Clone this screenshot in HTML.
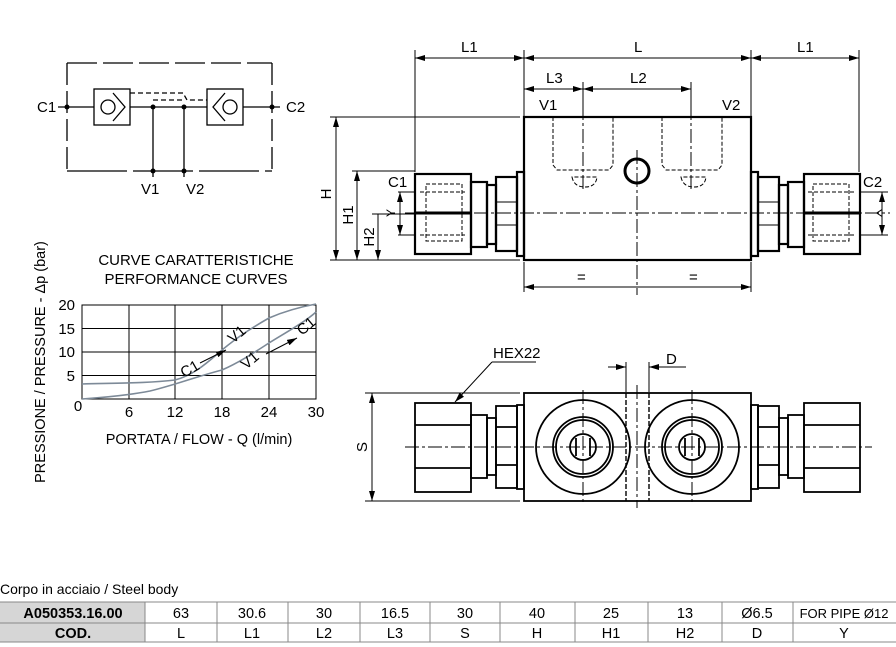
<!DOCTYPE html>
<html><head><meta charset="utf-8"><style>
body{margin:0;background:#fff;}
svg{display:block;font-family:"Liberation Sans",sans-serif;}
</style></head><body>
<svg width="896" height="647" viewBox="0 0 896 647" xmlns="http://www.w3.org/2000/svg">
<defs>
<marker id="a" markerWidth="10" markerHeight="6" refX="10" refY="3" orient="auto-start-reverse" markerUnits="userSpaceOnUse"><path d="M0,0 L10,3 L0,6 z" fill="#000"/></marker>
</defs>
<rect width="896" height="647" fill="#fff"/>

<!-- ===== Schematic ===== -->
<g stroke="#000" stroke-width="1.3" fill="none">
<path d="M67,63 H272" stroke-dasharray="30,6"/>
<path d="M67,63 V171" stroke-dasharray="22,6"/>
<path d="M272,63 V171" stroke-dasharray="22,6"/>
<path d="M67,171 H272" stroke-dasharray="60,6"/>
<path d="M58,107 H94 M130,107 H207 M243,107 H280"/>
<rect x="94" y="89" width="36" height="36"/>
<rect x="207" y="89" width="36" height="36"/>
<circle cx="108" cy="107" r="7"/>
<path d="M113,93 L125,107 L113,121"/>
<circle cx="230" cy="107" r="7"/>
<path d="M225,93 L213,107 L225,121"/>
<path d="M153,107 V177 M184,107 V177"/>
<path d="M130,93 H183 L187,100 H207" stroke-dasharray="5,3"/>
<path d="M153,100 H182" stroke-dasharray="5,3"/>
</g>
<g fill="#000">
<circle cx="67" cy="107" r="2.5"/><circle cx="272" cy="107" r="2.5"/>
<circle cx="153" cy="107" r="2.5"/><circle cx="184" cy="107" r="2.5"/>
<circle cx="153" cy="171" r="2.5"/><circle cx="184" cy="171" r="2.5"/>
</g>
<g font-size="15" fill="#000">
<text x="37" y="112">C1</text><text x="286" y="112">C2</text>
<text x="141" y="194">V1</text><text x="186" y="194">V2</text>
</g>

<!-- ===== Chart ===== -->
<g font-size="15" fill="#000" text-anchor="middle">
<text x="196" y="265">CURVE CARATTERISTICHE</text>
<text x="196" y="284">PERFORMANCE CURVES</text>
<text x="199" y="444" font-size="14.5">PORTATA / FLOW - Q (l/min)</text>
<text transform="translate(45,362) rotate(-90)" font-size="14.5">PRESSIONE / PRESSURE - Δp (bar)</text>
</g>
<g stroke="#000" stroke-width="1" fill="none">
<rect x="82" y="305" width="234" height="94"/>
<path d="M129,305V399 M175,305V399 M222,305V399 M269,305V399 M82,375.5H316 M82,352H316 M82,328.5H316"/>
</g>
<g font-size="15" fill="#000" text-anchor="end">
<text x="75" y="310">20</text><text x="75" y="334">15</text><text x="75" y="357">10</text><text x="75" y="381">5</text>
</g>
<g font-size="15" fill="#000" text-anchor="middle">
<text x="78" y="411">0</text><text x="129" y="417">6</text><text x="175" y="417">12</text><text x="222" y="417">18</text><text x="269" y="417">24</text><text x="316" y="417">30</text>
</g>
<g stroke="#7d8a98" stroke-width="1.6" fill="none">
<path d="M82,384 C120,383 150,383 175,380 C195,375 210,360 222,350 C240,335 255,326 269,318 C285,311 300,307 316,304"/>
<path d="M82,399 C110,397 130,395 150,391 C175,385 195,377 222,370 C240,362 255,352 269,343 C285,333 305,322 316,312"/>
</g>
<g stroke="#000" stroke-width="1" fill="none">
<path d="M200,363 L226,350" marker-end="url(#a)"/>
<path d="M266,354 L297,338" marker-end="url(#a)"/>
</g>
<g font-size="15" fill="#000">
<text transform="translate(184,378) rotate(-30)">C1</text>
<text transform="translate(233,344) rotate(-40)">V1</text>
<text transform="translate(246,370) rotate(-40)">V1</text>
<text transform="translate(302,336) rotate(-40)">C1</text>
</g>

<!-- ===== Front view ===== -->
<g stroke="#000" stroke-width="1" fill="none">
<path d="M415,50 V172 M524,50 V117 M751,50 V117 M859,50 V172 M583,82 V117 M691,82 V117"/>
<path d="M330,117 H520 M352,171 H415 M372,214 H415 M330,260 H520"/>
<path d="M398,192 H415 M398,235 H415 M860,192 H888 M860,235 H888"/>
<path d="M524,262 V292 M751,262 V292"/>
<path d="M415,58 H524" marker-start="url(#a)" marker-end="url(#a)"/>
<path d="M524,58 H751" marker-start="url(#a)" marker-end="url(#a)"/>
<path d="M751,58 H859" marker-start="url(#a)" marker-end="url(#a)"/>
<path d="M524,89 H583" marker-start="url(#a)" marker-end="url(#a)"/>
<path d="M583,89 H691" marker-start="url(#a)" marker-end="url(#a)"/>
<path d="M524,287 H751" marker-start="url(#a)" marker-end="url(#a)"/>
<path d="M336,117 V260" marker-start="url(#a)" marker-end="url(#a)"/>
<path d="M357,171 V260" marker-start="url(#a)" marker-end="url(#a)"/>
<path d="M378,214 V260" marker-end="url(#a)"/>
<path d="M400,192 V235" marker-start="url(#a)" marker-end="url(#a)"/>
<path d="M882,192 V235" marker-start="url(#a)" marker-end="url(#a)"/>
</g>
<g stroke="#000" stroke-width="2.2" fill="none">
<rect x="524" y="117" width="227" height="143"/>
<rect x="415" y="174" width="56" height="80"/>
<rect x="471" y="182" width="16" height="65"/>
<rect x="487" y="185" width="9" height="59"/>
<rect x="496" y="177" width="21" height="74"/>
<rect x="517" y="172" width="7" height="84"/>
<rect x="804" y="174" width="56" height="80"/>
<rect x="788" y="182" width="16" height="65"/>
<rect x="779" y="185" width="9" height="59"/>
<rect x="758" y="177" width="21" height="74"/>
<rect x="751" y="172" width="7" height="84"/>
<circle cx="637" cy="171" r="12" stroke-width="3"/>
<path d="M415,213 H471 M804,213 H860" stroke-width="3"/>
</g>
<g stroke="#000" stroke-width="1" fill="none">
<path d="M496,202 H517 M496,225 H517 M758,202 H779 M758,225 H779"/>
<path d="M553,117 V165 L557,170 H609 L613,165 V117" stroke-dasharray="4,2"/>
<path d="M662,117 V165 L666,170 H718 L722,165 V117" stroke-dasharray="4,2"/>
<path d="M572,177 Q574,187 585,187 Q596,187 597,177 Z" stroke-dasharray="4,2"/>
<path d="M681,177 Q683,187 694,187 Q705,187 706,177 Z" stroke-dasharray="4,2"/>
<rect x="426" y="184" width="36" height="57" stroke-dasharray="4,2"/>
<rect x="813" y="184" width="36" height="57" stroke-dasharray="4,2"/>
<path d="M420,192 H465 M420,235 H465 M808,192 H856 M808,235 H856" stroke-dasharray="4,2"/>
<path d="M405,213 H890 M637,150 V295 M583,106 V190 M691,106 V190" stroke-dasharray="14,3,3,3"/>
</g>
<g font-size="15" fill="#000">
<text x="461" y="52">L1</text><text x="634" y="52">L</text><text x="797" y="52">L1</text>
<text x="546" y="83">L3</text><text x="630" y="83">L2</text>
<text x="539" y="110">V1</text><text x="722" y="110">V2</text>
<text x="388" y="187">C1</text><text x="863" y="187">C2</text>
<text x="577" y="282">=</text><text x="689" y="282">=</text>
<text transform="translate(331,194) rotate(-90)" text-anchor="middle">H</text>
<text transform="translate(353,215) rotate(-90)" text-anchor="middle">H1</text>
<text transform="translate(374,237) rotate(-90)" text-anchor="middle">H2</text>
<text transform="translate(395,213) rotate(-90)" text-anchor="middle" font-size="12">Y</text>
<text transform="translate(873,213) rotate(90)" text-anchor="middle" font-size="12">Y</text>
</g>

<!-- ===== Bottom view ===== -->
<g stroke="#000" stroke-width="1" fill="none">
<path d="M365,393 H520 M365,501 H520"/>
<path d="M372,393 V501" marker-start="url(#a)" marker-end="url(#a)"/>
<path d="M626,362 V392 M649,362 V392"/>
<path d="M608,367 H626" marker-end="url(#a)"/>
<path d="M667,367 H649" marker-end="url(#a)"/>
<path d="M649,367 H686"/>
<path d="M492,362 L455,402" marker-end="url(#a)"/>
<path d="M492,362 H536"/>
<path d="M405,447 H872 M637,385 V508 M583,390 V505 M692,390 V505" stroke-dasharray="14,3,3,3"/>
<path d="M626,393 V501 M649,393 V501" stroke-dasharray="5,2" stroke-width="1.4"/>
</g>
<g stroke="#000" stroke-width="1.8" fill="none">
<rect x="524" y="393" width="227" height="108"/>
<rect x="415" y="403" width="56" height="89"/>
<path d="M415,425 H471 M415,468 H471"/>
<rect x="471" y="415" width="16" height="63"/>
<rect x="487" y="418" width="9" height="57"/>
<rect x="496" y="406" width="21" height="82"/>
<path d="M496,427 H517 M496,465 H517"/>
<rect x="517" y="405" width="7" height="84"/>
<rect x="804" y="403" width="56" height="89"/>
<path d="M804,425 H860 M804,468 H860"/>
<rect x="788" y="415" width="16" height="63"/>
<rect x="779" y="418" width="9" height="57"/>
<rect x="758" y="406" width="21" height="82"/>
<path d="M758,427 H779 M758,465 H779"/>
<rect x="751" y="405" width="7" height="84"/>
<circle cx="583" cy="447" r="47"/><circle cx="583" cy="447" r="30"/><circle cx="583" cy="447" r="27"/><circle cx="583" cy="447" r="13"/>
<circle cx="692" cy="447" r="47"/><circle cx="692" cy="447" r="30"/><circle cx="692" cy="447" r="27"/><circle cx="692" cy="447" r="13"/>
<path d="M576,438 V456 M590,438 V456 M685,438 V456 M699,438 V456"/>
</g>
<g font-size="15" fill="#000">
<text x="493" y="358">HEX22</text>
<text x="666" y="364">D</text>
<text transform="translate(367,447) rotate(-90)" text-anchor="middle">S</text>
</g>

<!-- ===== Table ===== -->
<text x="0" y="594" font-size="14" fill="#000">Corpo in acciaio / Steel body</text>
<rect x="0" y="602" width="145" height="40" fill="#d6d6d6"/>
<g stroke="#888" stroke-width="1" fill="none">
<path d="M0,602 H896 M0,623 H896 M0,642 H896"/>
<path d="M145,602V642 M217,602V642 M288,602V642 M360,602V642 M430,602V642 M500,602V642 M575,602V642 M648,602V642 M722,602V642 M793,602V642"/>
</g>
<g font-size="14.5" fill="#000" text-anchor="middle">
<text x="73" y="618" font-weight="bold">A050353.16.00</text>
<text x="73" y="638" font-weight="bold">COD.</text>
<text x="181" y="618">63</text><text x="252" y="618">30.6</text><text x="324" y="618">30</text><text x="395" y="618">16.5</text><text x="465" y="618">30</text><text x="537" y="618">40</text><text x="611" y="618">25</text><text x="685" y="618">13</text><text x="757" y="618">Ø6.5</text><text x="844" y="618" font-size="13">FOR PIPE Ø12</text>
<text x="181" y="638">L</text><text x="252" y="638">L1</text><text x="324" y="638">L2</text><text x="395" y="638">L3</text><text x="465" y="638">S</text><text x="537" y="638">H</text><text x="611" y="638">H1</text><text x="685" y="638">H2</text><text x="757" y="638">D</text><text x="844" y="638">Y</text>
</g>
</svg>
</body></html>
